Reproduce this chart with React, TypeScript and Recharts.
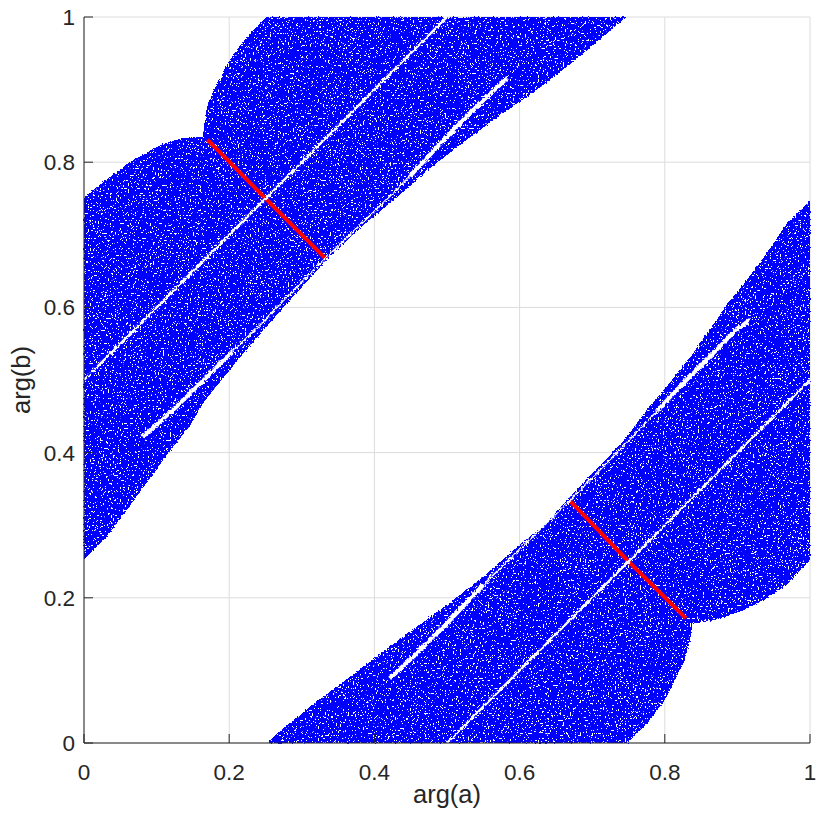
import React from "react";
import { ComposedChart, Area, Line, XAxis, YAxis, CartesianGrid } from "recharts";

const tickValues = [0, 0.2, 0.4, 0.6, 0.8, 1];

// Upper-left blob: x, lower edge, upper edge
const upperX = [0, 0.027, 0.031, 0.059, 0.063, 0.086, 0.1, 0.109, 0.128, 0.137, 0.146, 0.164, 0.1655, 0.167, 0.171, 0.183, 0.201, 0.219, 0.238, 0.252, 0.279, 0.302, 0.333, 0.371, 0.399, 0.435, 0.477, 0.522, 0.564, 0.6, 0.642, 0.683, 0.715, 0.747];
const upperLo = [0.253, 0.28, 0.284, 0.321, 0.326, 0.358, 0.376, 0.39, 0.414, 0.426, 0.437, 0.468, 0.47, 0.472, 0.477, 0.492, 0.514, 0.536, 0.558, 0.574, 0.605, 0.63, 0.664, 0.701, 0.725, 0.755, 0.792, 0.827, 0.858, 0.883, 0.913, 0.946, 0.973, 1];
const upperHi = [0.752, 0.773, 0.776, 0.797, 0.8, 0.813, 0.821, 0.825, 0.831, 0.833, 0.835, 0.834, 0.85, 0.863, 0.881, 0.909, 0.941, 0.966, 0.987, 1, 1, 1, 1, 1, 1, 1, 1, 1, 1, 1, 1, 1, 1, 1];

// Lower-right blob: x, lower edge, upper edge
const lowerX = [0.252, 0.274, 0.32, 0.366, 0.403, 0.458, 0.504, 0.55, 0.6, 0.637, 0.669, 0.725, 0.749, 0.766, 0.78, 0.803, 0.826, 0.835, 0.838, 0.844, 0.848, 0.867, 0.885, 0.904, 0.913, 0.94, 0.968, 1];
const lowerLo = [0, 0, 0, 0, 0, 0, 0, 0, 0, 0, 0, 0, 0, 0.018, 0.032, 0.064, 0.11, 0.142, 0.165, 0.165, 0.166, 0.169, 0.175, 0.181, 0.185, 0.199, 0.218, 0.252];
const lowerHi = [0, 0.02, 0.057, 0.091, 0.119, 0.16, 0.193, 0.229, 0.273, 0.303, 0.339, 0.397, 0.423, 0.447, 0.465, 0.491, 0.521, 0.531, 0.535, 0.543, 0.551, 0.577, 0.603, 0.627, 0.638, 0.674, 0.716, 0.747];

// White gaps and red segments: [x, y]
const gapMainUpper = [[0, 0.5], [0.25, 0.75], [0.5, 1]];
const gapMainLower = [[0.5, 0], [0.75, 0.25], [1, 0.5]];
const gapSideUpperA = [[0.081, 0.422], [0.123, 0.459], [0.169, 0.504], [0.205, 0.54]];
const gapSideUpperB = [[0.205, 0.54], [0.242, 0.575], [0.274, 0.609], [0.333, 0.668], [0.412, 0.744], [0.449, 0.781]];
const gapSideUpperC = [[0.449, 0.781], [0.495, 0.83], [0.527, 0.863], [0.555, 0.89], [0.583, 0.916]];
const gapSideLowerA = [[0.421, 0.089], [0.444, 0.11], [0.472, 0.137], [0.504, 0.169], [0.55, 0.218]];
const gapSideLowerB = [[0.55, 0.218], [0.591, 0.258], [0.667, 0.332], [0.742, 0.408], [0.79, 0.458]];
const gapSideLowerC = [[0.79, 0.458], [0.812, 0.482], [0.867, 0.537], [0.894, 0.565], [0.917, 0.583]];
const redUpper = [[0.17, 0.831], [0.25, 0.75], [0.333, 0.667]];
const redLower = [[0.669, 0.334], [0.75, 0.25], [0.829, 0.172]];

const lineSeries: [string, number[][]][] = [
  ["redUpper", redUpper],
  ["redLower", redLower],
  ["gapMainUpper", gapMainUpper],
  ["gapMainLower", gapMainLower],
  ["gapSideUpperA", gapSideUpperA],
  ["gapSideUpperB", gapSideUpperB],
  ["gapSideUpperC", gapSideUpperC],
  ["gapSideLowerA", gapSideLowerA],
  ["gapSideLowerB", gapSideLowerB],
  ["gapSideLowerC", gapSideLowerC],
];

const rows: any[] = [
  ...upperX.map((x, i) => ({ x, upper: [upperLo[i], upperHi[i]] })),
  ...lowerX.map((x, i) => ({ x, lower: [lowerLo[i], lowerHi[i]] })),
  ...lineSeries.flatMap(([key, pts]) => pts.map(([x, y]) => ({ x, [key]: y }))),
].sort((a, b) => a.x - b.x);

const widths: Record<string, number> = {
  gapMainUpper: 2.4,
  gapMainLower: 2.4,
  gapSideUpperA: 4,
  gapSideUpperB: 1.6,
  gapSideUpperC: 4.2,
  gapSideLowerA: 4.2,
  gapSideLowerB: 1.6,
  gapSideLowerC: 4,
};

const ink = "#262626";
const tickStyle = { fontFamily: "Liberation Sans", fontSize: 22.5, fill: ink };

export default function App() {
  return (
    <div style={{ position: "absolute", left: 0, top: 0, width: 823, height: 818 }}>
      <ComposedChart
        width={823}
        height={818}
        data={rows}
        margin={{ top: 17, right: 13, bottom: 0, left: 0 }}
      >
        <defs>
          <filter id="speckle" x="-2%" y="-2%" width="104%" height="104%" colorInterpolationFilters="sRGB">
            <feTurbulence type="fractalNoise" baseFrequency="0.6" numOctaves={2} seed={11} result="noise" />
            <feDisplacementMap in="SourceGraphic" in2="noise" scale={3} xChannelSelector="R" yChannelSelector="G" result="rough" />
            <feComponentTransfer in="noise" result="holes">
              <feFuncA type="linear" slope={60} intercept={-39} />
            </feComponentTransfer>
            <feComposite in="rough" in2="holes" operator="out" />
          </filter>
          <filter id="roughLine" x="-10%" y="-10%" width="120%" height="120%" colorInterpolationFilters="sRGB">
            <feTurbulence type="fractalNoise" baseFrequency="0.35" numOctaves={2} seed={5} result="noise" />
            <feDisplacementMap in="SourceGraphic" in2="noise" scale={4} xChannelSelector="R" yChannelSelector="G" />
          </filter>
        </defs>
        <CartesianGrid stroke="#dcdcdc" strokeWidth={1} />
        <XAxis
          type="number"
          dataKey="x"
          domain={[0, 1]}
          ticks={tickValues}
          height={75}
          axisLine={{ stroke: ink, strokeWidth: 1 }}
          tickLine={{ stroke: ink, strokeWidth: 1 }}
          tickSize={-9}
          tickMargin={30}
          tick={tickStyle}
          interval={0}
          label={{ value: "arg(a)", position: "insideBottom", offset: 15, style: { fontFamily: "Liberation Sans", fontSize: 25.5, fill: ink } }}
        />
        <YAxis
          type="number"
          domain={[0, 1]}
          ticks={tickValues}
          width={84}
          axisLine={{ stroke: ink, strokeWidth: 1 }}
          tickLine={{ stroke: ink, strokeWidth: 1 }}
          tickSize={-9}
          tickMargin={18}
          tick={tickStyle}
          interval={0}
          label={{ value: "arg(b)", angle: -90, position: "insideLeft", offset: 21, style: { fontFamily: "Liberation Sans", fontSize: 25.5, fill: ink, textAnchor: "middle" } }}
        />
        {["upper", "lower"].map((key) => (
          <Area
            key={key}
            type="linear"
            dataKey={key}
            fill="#0000ff"
            fillOpacity={1}
            stroke="none"
            connectNulls
            dot={false}
            activeDot={false}
            isAnimationActive={false}
            shapeRendering="crispEdges"
            filter="url(#speckle)"
          />
        ))}
        {lineSeries.map(([key]) => {
          const red = key.startsWith("red");
          return (
            <Line
              key={key}
              type="linear"
              dataKey={key}
              stroke={red ? "#ff0000" : "#ffffff"}
              strokeWidth={red ? 4 : widths[key]}
              connectNulls
              dot={false}
              activeDot={false}
              isAnimationActive={false}
              filter={red ? undefined : "url(#roughLine)"}
            />
          );
        })}
      </ComposedChart>
    </div>
  );
}
